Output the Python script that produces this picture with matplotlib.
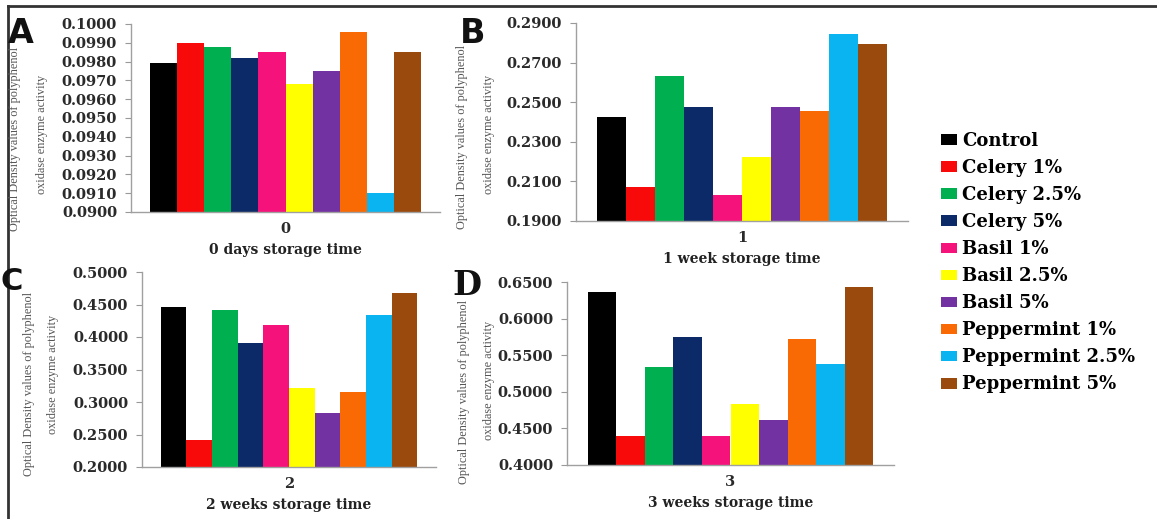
# -*- encoding: utf-8 -*-
import numpy as np
import matplotlib
matplotlib.use('Agg')
from matplotlib import pyplot as plt
from matplotlib.patches import Patch
from matplotlib.lines import Line2D

# trattamenti e colori
treatments = ["Control", "Celery 1%", "Celery 2.5%", "Celery 5%", "Basil 1%",
              "Basil 2.5%", "Basil 5%", "Peppermint 1%", "Peppermint 2.5%", "Peppermint 5%"]
colors = ["#000000", "#F80A0A", "#00B050", "#0C2A68", "#F5127A",
          "#FFFF00", "#7332A2", "#FA6A04", "#09B4F0", "#9A4A0C"]

# valori
od_week0 = [0.0979, 0.0990, 0.0988, 0.0982, 0.0985, 0.0968, 0.0975, 0.0996, 0.0910, 0.0985]
od_week1 = [0.2424, 0.2072, 0.2632, 0.2474, 0.2033, 0.2225, 0.2474, 0.2457, 0.2845, 0.2795]
od_week2 = [0.4457, 0.2415, 0.4415, 0.3903, 0.4180, 0.3210, 0.2826, 0.3158, 0.4338, 0.4670]
od_week3 = [0.6360, 0.4400, 0.5335, 0.5750, 0.4400, 0.4833, 0.4615, 0.5720, 0.5380, 0.6430]

letters = ["A", "B", "C", "D"]
cat_labels = ["0", "1", "2", "3"]
xlabels = ["0 days storage time", "1 week storage time",
           "2 weeks storage time", "3 weeks storage time"]
yticks_A = np.arange(0.0900, 0.10001, 0.0010)
yticks_B = np.arange(0.1900, 0.29001, 0.0200)
yticks_C = np.arange(0.2000, 0.50001, 0.0500)
yticks_D = np.arange(0.4000, 0.65001, 0.0500)

W, H = 1157, 519
f1 = plt.figure(figsize=(W / 100, H / 100), dpi=100)

def fx(px):
    return px / W

def fy(py):
    return 1 - py / H

# (left, top, right, bottom) in pixel
boxes = [(131, 24, 440, 212), (576, 23, 908, 221), (142, 272, 436, 467), (567, 282, 894, 465)]
datas = [od_week0, od_week1, od_week2, od_week3]
yticks = [yticks_A, yticks_B, yticks_C, yticks_D]
ylab_pos = [(15, 42, 139, 134), (462, 489, 137, 134), (29, 53, 384, 374), (464, 489, 392, 380)]
letter_pos = [(8, 43), (460, 43), (1, 290), (452, 295)]

tick_font = dict(family='DejaVu Serif', weight='bold', size=10.5)
n = len(treatments)
pos = np.arange(n)

for k in range(4):
    l, t, r, b = boxes[k]
    ax = f1.add_axes([fx(l), fy(b), fx(r - l), (b - t) / H])
    ax.bar(pos, datas[k], width=1.0, color=colors, edgecolor='none')
    ax.set_xlim(-0.5 - 0.72, n - 0.5 + 0.72)
    ax.set_ylim(yticks[k][0], yticks[k][-1])
    ax.set_yticks(yticks[k])
    ax.set_yticklabels(["%.4f" % v for v in yticks[k]], fontdict=tick_font, color='#2a2a2a')
    ax.set_xticks([(n - 1) / 2.0])
    ax.set_xticklabels([cat_labels[k]], fontdict=tick_font, color='#2a2a2a')
    ax.tick_params(axis='y', length=4, color='#999999', pad=6)
    ax.tick_params(axis='x', length=0, pad=7)
    ax.set_xlabel(xlabels[k], family='DejaVu Serif', weight='bold', size=10, color='#222222', labelpad=5)
    for s in ('top', 'right'):
        ax.spines[s].set_visible(False)
    for s in ('left', 'bottom'):
        ax.spines[s].set_color('#a0a0a0')
        ax.spines[s].set_linewidth(1.0)

    x1, x2, y1, y2 = ylab_pos[k]
    f1.text(fx(x1), fy(y1), "Optical Density values of polyphenol", rotation=90,
            ha='center', va='center', family='Liberation Serif', size=8.8, color='#555555')
    f1.text(fx(x2), fy(y2), "oxidase enzyme activity", rotation=90,
            ha='center', va='center', family='Liberation Serif', size=8.8, color='#555555')

    lx, ly = letter_pos[k]
    fam = 'DejaVu Serif' if letters[k] == 'D' else 'DejaVu Sans'
    sz = 22 if letters[k] == 'C' else 24
    f1.text(fx(lx), fy(ly), letters[k], family=fam, weight='bold', size=sz,
            color='#111111', ha='left', va='baseline')

# legenda
handles = [Patch(facecolor=c, edgecolor='none') for c in colors]
f1.legend(handles, treatments, loc='upper left', bbox_to_anchor=(fx(934), fy(125)),
          frameon=False, handlelength=0.9, handleheight=0.55, handletextpad=0.25,
          labelspacing=0.50, borderaxespad=0,
          prop={'family': 'DejaVu Serif', 'weight': 'bold', 'size': 13})

# cornice
f1.add_artist(Line2D([fx(8), 1], [fy(6), fy(6)], color='#333333', lw=2))
f1.add_artist(Line2D([fx(8), fx(8)], [fy(6), 0], color='#333333', lw=2))

f1.savefig('out.png', dpi=100)
